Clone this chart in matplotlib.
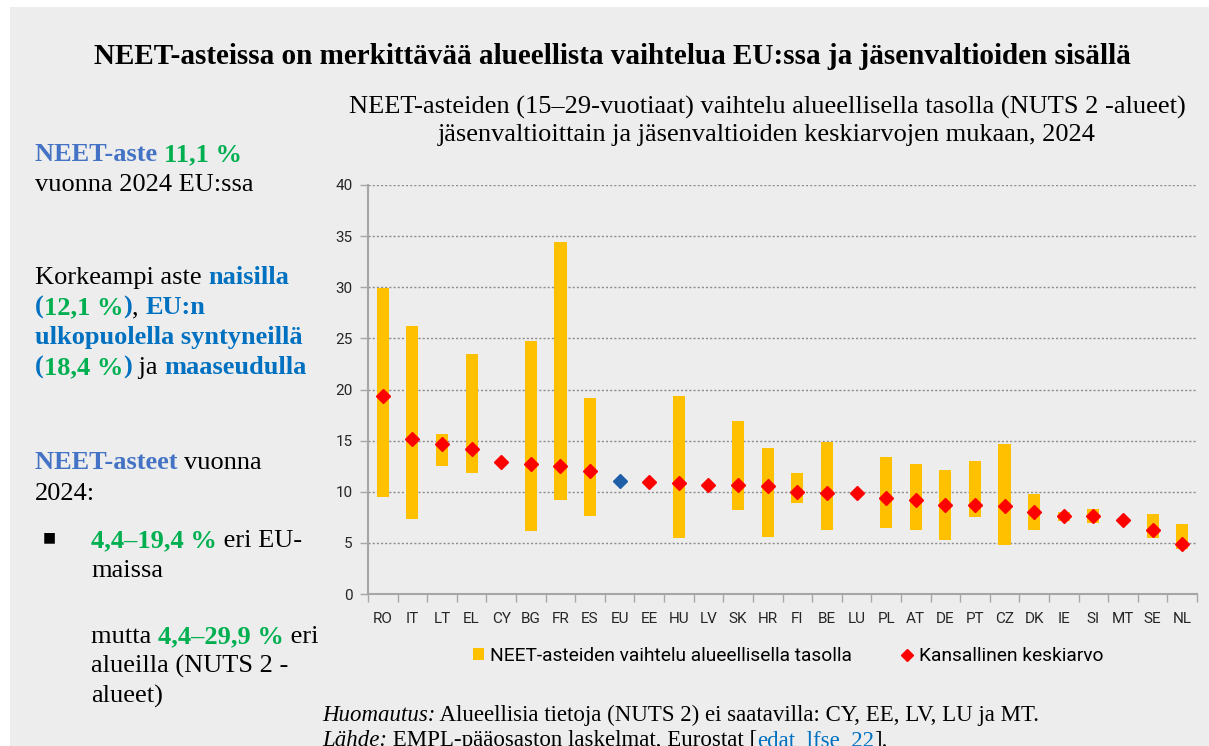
import matplotlib
matplotlib.use("Agg")
import matplotlib.pyplot as plt
from matplotlib.patches import Patch, Rectangle
from matplotlib.lines import Line2D
import numpy as np

# values
countries = ["RO", "IT", "LT", "EL", "CY", "BG", "FR", "ES", "EU", "EE", "HU", "LV", "SK", "HR",
             "FI", "BE", "LU", "PL", "AT", "DE", "PT", "CZ", "DK", "IE", "SI", "MT", "SE", "NL"]
region_min = [9.5, 7.3, 12.5, 11.8, np.nan, 6.2, 9.2, 7.6, np.nan, np.nan, 5.5, np.nan, 8.2, 5.6,
              8.9, 6.3, np.nan, 6.5, 6.3, 5.3, 7.5, 4.8, 6.3, 7.1, 6.9, np.nan, 5.5, 4.4]
region_max = [29.9, 26.2, 15.6, 23.5, np.nan, 24.7, 34.4, 19.2, np.nan, np.nan, 19.4, np.nan, 16.9, 14.3,
              11.8, 14.9, np.nan, 13.4, 12.7, 12.1, 13.0, 14.7, 9.8, 8.0, 8.3, np.nan, 7.8, 6.8]
national_avg = [19.4, 15.2, 14.7, 14.2, 12.9, 12.7, 12.5, 12.0, 11.1, 11.0, 10.9, 10.7, 10.7, 10.6,
                10.0, 9.9, 9.9, 9.4, 9.2, 8.7, 8.7, 8.6, 8.0, 7.6, 7.6, 7.2, 6.3, 4.9]

W, H = 1209, 746
BG = "#EDEDED"
YELLOW = "#FFC000"
RED = "#FF0000"
EU_BLUE = "#1F5FA8"
AXIS_GRAY = "#A6A6A6"
TITLE_BLUE = "#4472C4"
LINK_BLUE = "#0070C0"
GREEN = "#00B050"

plt.rcParams["font.family"] = ["Liberation Serif", "DejaVu Serif"]

fig = plt.figure(figsize=(W / 100, H / 100), dpi=100, facecolor="white")
fig.patches.append(Rectangle((10 / W, 0), 1 - 10 / W, 1 - 7 / H, transform=fig.transFigure,
                             facecolor=BG, edgecolor="none", zorder=-10))


def px(x, y):
    return x / W, 1 - y / H


# ---- chart ----
ax = fig.add_axes([368 / W, 1 - 594 / H, (1197 - 368) / W, (594 - 185) / H])
ax.set_facecolor("none")
x = np.arange(len(countries))
lo = np.array(region_min)
hi = np.array(region_max)
nat = np.array(national_avg)
is_eu = np.array([c == "EU" for c in countries])

ax.bar(x, hi - lo, bottom=lo, width=0.41, color=YELLOW, zorder=2)
ax.plot(x[~is_eu], nat[~is_eu], linestyle="none", marker="D", ms=7.5, color=RED, zorder=3)
ax.plot(x[is_eu], nat[is_eu], linestyle="none", marker="D", ms=7, color=EU_BLUE, zorder=3)

ax.set_ylim(0, 40)
ax.set_xlim(-0.5, len(countries) - 0.5)
ax.set_yticks(np.arange(0, 41, 5))
ax.yaxis.grid(True, linestyle=(0, (1.5, 1.5)), color="#8C8C8C", linewidth=1, zorder=0)
ax.set_axisbelow(True)
ax.set_xticks(x)
ax.set_xticklabels(countries)
ax.set_xticks(np.arange(len(countries) + 1) - 0.5, minor=True)
ax.tick_params(axis="x", which="major", length=0, pad=13)
ax.tick_params(axis="x", which="minor", length=6, color=AXIS_GRAY, width=1)
ax.tick_params(axis="y", length=6, color=AXIS_GRAY, width=1, pad=5)
for lab in ax.get_xticklabels() + ax.get_yticklabels():
    lab.set_fontfamily("Roboto")
    lab.set_fontsize(11)
    lab.set_color("#262626")
for s in ["top", "right"]:
    ax.spines[s].set_visible(False)
for s in ["left", "bottom"]:
    ax.spines[s].set_color(AXIS_GRAY)
    ax.spines[s].set_linewidth(1.5)

handles = [Patch(facecolor=YELLOW, edgecolor="none"),
           Line2D([], [], linestyle="none", marker="D", ms=6, color=RED)]
fig.legend(handles, ["NEET-asteiden vaihtelu alueellisella tasolla", "Kansallinen keskiarvo"],
           loc="center", bbox_to_anchor=px(788, 656), ncol=2, frameon=False,
           prop={"family": "Roboto", "size": 13.8}, handlelength=0.6, handleheight=0.6,
           handletextpad=0.3, columnspacing=2.6)

# ---- titles ----
fig.text(*px(612, 57), "NEET-asteissa on merkittävää alueellista vaihtelua EU:ssa ja jäsenvaltioiden sisällä",
         ha="center", va="center", fontsize=21, fontweight="bold")
fig.text(*px(767, 121), "NEET-asteiden (15–29-vuotiaat) vaihtelu alueellisella tasolla (NUTS 2 -alueet)\n"
         "jäsenvaltioittain ja jäsenvaltioiden keskiarvojen mukaan, 2024",
         ha="center", va="center", fontsize=19, linespacing=1.3)

# ---- left text with coloured runs ----
fig.canvas.draw()
renderer = fig.canvas.get_renderer()


def run_line(x0, y0, pieces, size=19):
    """pieces: list of (text, colour, bold, italic, underline); drawn one after another."""
    xpos = x0
    for txt, col, bold, italic, under in pieces:
        kw = dict(fontsize=size, fontweight="bold" if bold else "normal",
                  fontstyle="italic" if italic else "normal")
        fig.text(xpos / W, 1 - y0 / H, txt, color=col, va="baseline", ha="left", **kw)
        # measure with guard characters so that spaces count
        probe = fig.text(0, 0, "|" + txt + "|", **kw)
        guard = fig.text(0, 0, "||", **kw)
        w = probe.get_window_extent(renderer).width - guard.get_window_extent(renderer).width
        probe.remove()
        guard.remove()
        if under:
            fig.add_artist(Line2D([xpos / W, (xpos + w) / W], [1 - (y0 + 2) / H] * 2, color=col, lw=0.8))
        xpos += w


K = "black"
run_line(35, 161, [("NEET-aste ", TITLE_BLUE, True, False, False), ("11,1 %", GREEN, True, False, False)])
run_line(35, 191, [("vuonna 2024 EU:ssa", K, False, False, False)])
run_line(35, 284, [("Korkeampi aste ", K, False, False, False), ("naisilla", LINK_BLUE, True, False, False)])
run_line(35, 314, [("(", LINK_BLUE, True, False, False), ("12,1 %", GREEN, True, False, False),
                   (")", LINK_BLUE, True, False, False), (", ", K, False, False, False),
                   ("EU:n", LINK_BLUE, True, False, False)])
run_line(35, 344, [("ulkopuolella syntyneillä", LINK_BLUE, True, False, False)])
run_line(35, 374, [("(", LINK_BLUE, True, False, False), ("18,4 %", GREEN, True, False, False),
                   (")", LINK_BLUE, True, False, False), (" ja ", K, False, False, False),
                   ("maaseudulla", LINK_BLUE, True, False, False)])
run_line(35, 469, [("NEET-asteet ", TITLE_BLUE, True, False, False), ("vuonna", K, False, False, False)])
run_line(35, 500, [("2024:", K, False, False, False)])
fig.text(*px(49, 537), "■", fontsize=10, family="DejaVu Sans", va="center", ha="center")
run_line(91, 547, [("4,4–19,4 %", GREEN, True, False, False), (" eri EU-", K, False, False, False)])
run_line(91, 577, [("maissa", K, False, False, False)])
run_line(91, 643, [("mutta ", K, False, False, False), ("4,4–29,9 %", GREEN, True, False, False),
                   (" eri", K, False, False, False)])
run_line(91, 673, [("alueilla (NUTS 2 -", K, False, False, False)])
run_line(91, 703, [("alueet)", K, False, False, False)])

# ---- notes ----
run_line(322, 721, [("Huomautus:", K, False, True, False),
                    (" Alueellisia tietoja (NUTS 2) ei saatavilla: CY, EE, LV, LU ja MT.", K, False, False, False)],
         size=16.5)
run_line(322, 746, [("Lähde:", K, False, True, False),
                    (" EMPL-pääosaston laskelmat, Eurostat [", K, False, False, False),
                    ("edat_lfse_22", LINK_BLUE, False, False, True), ("].", K, False, False, False)],
         size=16.5)

fig.savefig("out.png", dpi=100, facecolor=fig.get_facecolor())
